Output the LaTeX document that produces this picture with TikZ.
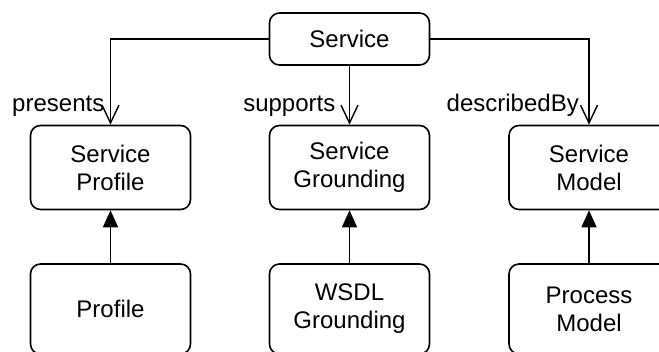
\documentclass[tikz,border=0pt]{standalone}
\usepackage{fontspec}
\setmainfont{Liberation Sans}
\usetikzlibrary{arrows.meta, positioning}

\begin{document}
\begin{tikzpicture}[x=1pt, y=-1pt,
  box/.style={draw, line width=1.6pt, rounded corners=10pt, minimum width=160pt,
    align=center, font=\fontsize{24}{28}\selectfont},
  rel/.style={-{Straight Barb[length=18pt,width=17pt,line width=1.4pt]}, line width=1.6pt},
  inh/.style={-{Triangle[length=17pt,width=15pt]}, line width=1.6pt},
  lbl/.style={font=\fontsize{24}{28}\selectfont, inner sep=0pt, anchor=base east}]
\clip (0,0) rectangle (659,351);
% top class
\node[box, minimum height=52pt] (service) at (349.5,39) {Service};
% second row
\node[box, minimum height=84pt] (sprofile) at (110.5,167.5) {Service\\Profile};
\node[box, minimum height=84pt] (sground) at (349.5,167.5) {Service\\Grounding};
\node[box, minimum height=84pt] (smodel) at (589,167.5) {Service\\Model};
% bottom row
\node[box, minimum height=90pt] (profile) at (110.5,309) {Profile};
\node[box, minimum height=90pt] (wsdl) at (349.5,309) {WSDL\\Grounding};
\node[box, minimum height=90pt] (process) at (589,309) {Process\\Model};

% properties of Service
\draw[rel] (service.west) -| (sprofile.north);
\draw[rel] (service.south) -- (sground.north);
\draw[rel] (service.east) -| (smodel.north);
\node[lbl] (presents) at ([xshift=-6pt, yshift=13pt]sprofile.north) {presents};
\node[lbl] (supports) at ([xshift=-14pt, yshift=13pt]sground.north) {supports};
\node[lbl] (describedby) at ([xshift=-10pt, yshift=13pt]smodel.north) {describedBy};

% subclasses
\draw[inh] (profile.north) -- (sprofile.south);
\draw[inh] (wsdl.north) -- (sground.south);
\draw[inh] (process.north) -- (smodel.south);
\end{tikzpicture}
\end{document}
